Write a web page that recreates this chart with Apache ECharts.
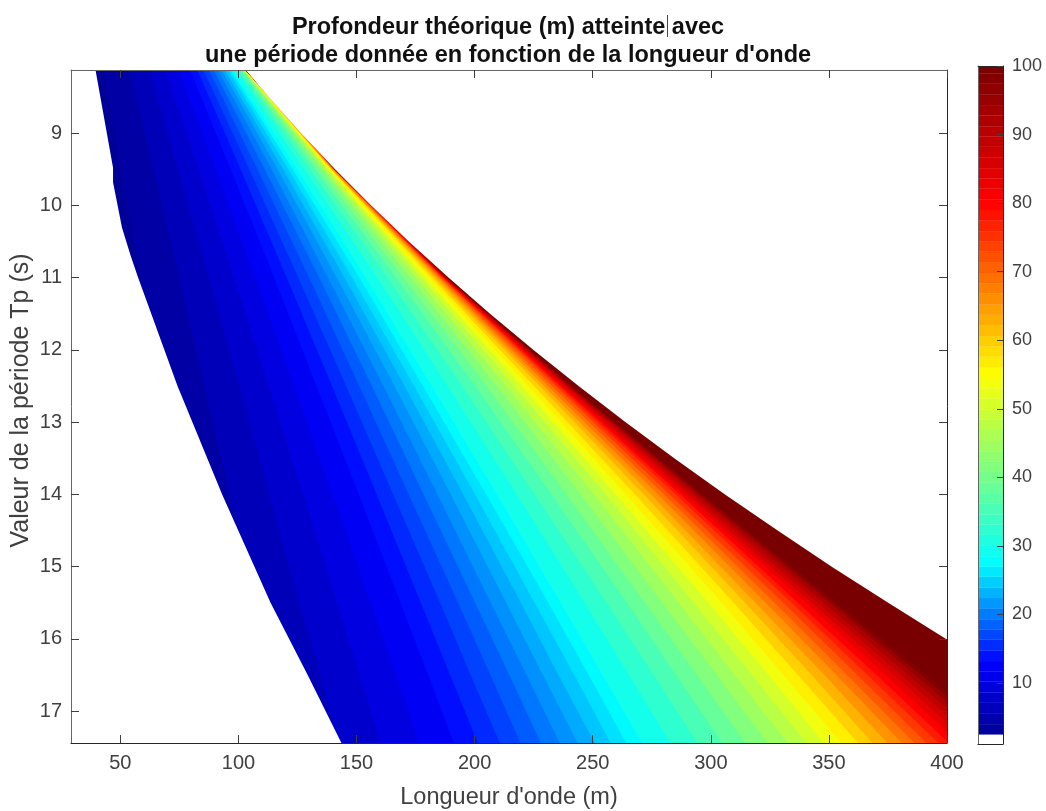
<!DOCTYPE html>
<html><head><meta charset="utf-8">
<script src="https://cdn.jsdelivr.net/npm/echarts@6/dist/echarts.min.js"></script>
<style>html,body{margin:0;padding:0;background:#fff}#c{width:1046px;height:811px}</style>
</head><body><div id="c"></div>
<script>
// Depth levels (m) of the plotted bands
const depthLevels = [3,5,7,9,11,13,14.5,16,17.5,19,20.5,22,23.5,25,26.5,28,31,34,37,40,43,46,49,52,55,58,61,64,67,70,73,76,79,82,85,88,91,94,97,100];
// Periods (s) at which each band's boundary is read
const periodRows = [8.13,9.5,11,12.5,14,15.5,16.5,17.44];
// Wavelength (m) of each band's boundary, one list per period
const lengthsT813 = [42.8,54.0,62.5,69.3,74.9,79.6,82.7,85.3,87.6,89.7,91.5,93.1,94.4,95.7,96.7,97.6,99.2,100.2,101.1,101.6,102.1,102.3,102.6,102.8,102.9,103.0,103.0,103.1,103.1,103.1,103.2,103.2,103.2,103.2,103.2,103.2,103.2,103.2,103.2,103.2];
const lengthsT95 = [50.3,64.1,74.6,83.2,90.5,96.8,101.0,104.7,108.1,111.2,114.1,116.7,119.0,121.2,123.1,125.0,128.0,130.5,132.5,134.2,135.7,136.7,137.7,138.3,138.9,139.3,139.6,139.8,140.1,140.3,140.5,140.6,140.7,140.7,140.8,140.8,140.9,140.9,140.9,140.9];
const lengthsT11 = [58.6,74.9,87.6,98.2,107.2,115.2,120.5,125.4,130.0,134.3,138.0,141.7,145.0,148.2,151.3,154.0,158.9,163.2,166.9,170.0,172.9,175.3,177.3,179.0,180.7,182.0,183.0,184.0,184.9,185.5,186.1,186.6,186.9,187.1,187.4,187.6,187.9,188.2,188.3,188.4];
const lengthsT125 = [66.6,85.6,100.5,112.9,123.7,133.1,139.7,145.7,151.3,156.6,161.5,166.2,170.5,174.5,178.2,181.9,188.7,194.9,200.3,205.1,209.5,213.3,216.9,220.0,222.8,225.2,227.7,229.4,231.1,232.8,234.4,235.5,236.5,237.5,238.5,239.1,239.7,240.3,240.9,241.2];
const lengthsT14 = [75.1,96.2,113.1,127.5,139.9,151.0,158.6,165.6,172.2,178.5,184.4,190.0,195.3,200.3,205.0,209.6,218.0,225.5,232.7,239.0,245.1,250.6,255.6,259.9,264.1,268.0,271.7,274.7,277.8,280.3,282.7,285.3,287.1,288.7,290.4,292.1,293.8,294.9,295.9,296.9];
const lengthsT155 = [83.3,106.6,125.7,141.9,156.1,168.7,177.3,185.5,193.1,200.3,206.9,213.5,219.7,225.5,231.3,236.5,246.7,256.0,264.6,272.2,279.6,286.6,292.9,299.1,304.7,309.8,314.6,319.0,323.3,327.1,330.8,334.3,337.0,340.4,342.9,345.4,347.9,350.3,352.0,353.6];
const lengthsT165 = [89.0,113.5,134.8,151.4,166.8,180.4,189.7,198.4,206.8,214.8,222.1,229.0,235.6,242.3,248.4,254.3,265.5,276.0,285.4,294.3,302.7,310.2,317.6,324.6,330.8,337.0,342.8,348.2,353.3,357.8,362.2,366.5,370.3,374.0,377.7,380.7,383.8,386.7,389.2,391.6];
const lengthsT1744 = [93.7,120.0,142.2,160.3,176.6,191.2,201.4,210.7,219.5,228.1,236.1,243.7,251.0,257.7,264.3,271.0,282.9,294.4,304.9,314.6,324.0,332.6,340.6,348.0,355.4,362.4,368.6,374.8,381.0,386.4,391.5,396.5,400.9,405.3,409.6,413.4,417.1,420.8,424.0,426.7];
// Outline of the coloured region
const leftEdgeT = [8.13,9.48,9.68,10.31,10.7,11,12.5,14,15.5,16.5,17.44];
const leftEdgeL = [39.5,46.9,46.9,50.7,54.4,57.5,74.2,93.1,113.6,129.3,143.6];
const rightEdgeT = [8.13,8.5,9,9.5,10,10.5,11,11.5,12,12.5,13,13.5,14,14.5,15,15.5,16,16.5,17];
const rightEdgeL = [103.2,112.8,126.4,140.9,156.1,172.1,188.9,206.5,224.8,244,263.8,284.5,306,328.3,351.2,375.1,399.6,425.1,451.2];
// Colour bar
const barEdges = [2.5,4.0,5.6,7.1,8.6,10.2,11.7,13.2,14.7,16.3,17.8,19.3,20.9,22.4,23.9,25.5,27.0,28.5,30.0,31.6,33.1,34.6,36.2,37.7,39.2,40.8,42.3,43.8,45.3,46.9,48.4,49.9,51.5,53.0,54.5,56.1,57.6,59.1,60.6,62.2,63.7,65.2,66.8,68.3,69.8,71.4,72.9,74.4,75.9,77.5,79.0,80.5,82.1,83.6,85.1,86.7,88.2,89.7,91.2,92.8,94.3,95.8,97.4,98.9,100];
const barTicks = [10,20,30,40,50,60,70,80,90,100];
const xTicks = [50,100,150,200,250,300,350,400];
const yTicks = [9,10,11,12,13,14,15,16,17];
// Colour stops: depth, r, g, b
const colorStops = [[2.5,0,0,150],[13,0,0,255],[27.5,0,255,255],[55,255,255,0],[80,255,0,0],[100,120,0,0]];

const rowsByLevel = [lengthsT813,lengthsT95,lengthsT11,lengthsT125,lengthsT14,lengthsT155,lengthsT165,lengthsT1744];
function colorAt(d){
  for(let i=1;i<colorStops.length;i++){
    const a=colorStops[i-1],b=colorStops[i];
    if(d<=b[0]){const t=Math.max(0,(d-a[0])/(b[0]-a[0]));
      return 'rgb('+[1,2,3].map(k=>Math.round(a[k]+(b[k]-a[k])*t)).join(',')+')';}
  }
  return 'rgb(120,0,0)';
}
const FONT='"Liberation Sans",Arial,sans-serif', TXT='#404040', DARK='#262626', GREY='#666666';
const chart=echarts.init(document.getElementById('c'),null,{renderer:'canvas'});

function bandItem(i,api){ // i = -1 is the base band
  const pts=[];
  periodRows.forEach((t,r)=>{
    const l=i<0?20:rowsByLevel[r][i];
    pts.push(api.coord([l,t]));
  });
  pts.push(api.coord([500,17.44]));pts.push(api.coord([500,8.13]));
  const lo=i<0?2.5:depthLevels[i], hi=i<0?3:(i+1<depthLevels.length?depthLevels[i+1]:102);
  const color=colorAt((lo+hi)/2);
  return {type:'polygon',shape:{points:pts},style:{fill:color,stroke:color,lineWidth:0.5}};
}
function ax(color){return {z:5,axisLine:{show:true,onZero:false,lineStyle:{color:color,width:1}},splitLine:{show:false}};}
const tick=(vals,len)=>({show:true,inside:true,length:len,customValues:vals,lineStyle:{color:'#404040'}});
const option={
  animation:false,
  backgroundColor:'#fff',
  title:{text:"Profondeur théorique (m) atteinte avec\nune période donnée en fonction de la longueur d'onde",
    left:508,top:14,padding:0,textAlign:'center',
    textStyle:{fontFamily:FONT,fontWeight:'bold',fontSize:23.5,lineHeight:28,color:'#111'}},
  grid:[{left:71,top:70,width:876,height:673,outerBoundsMode:'none'},{left:978,top:66,width:25,height:678,outerBoundsMode:'none'}],
  xAxis:[
    Object.assign(ax(DARK),{gridIndex:0,type:'value',position:'bottom',min:29.1,max:400,
      name:"Longueur d'onde (m)",nameLocation:'middle',nameGap:43,nameMoveOverlap:false,
      nameTextStyle:{fontFamily:FONT,fontSize:23.5,color:TXT},
      axisTick:tick(xTicks,8),
      axisLabel:{show:true,customValues:xTicks,fontFamily:FONT,fontSize:20,color:TXT,margin:10}}),
    Object.assign(ax(GREY),{gridIndex:0,type:'value',position:'top',min:29.1,max:400,
      axisTick:tick(xTicks,8),axisLabel:{show:false}}),
    Object.assign(ax(DARK),{gridIndex:1,type:'value',position:'bottom',min:0,max:1,axisTick:{show:false},axisLabel:{show:false}}),
    Object.assign(ax(DARK),{gridIndex:1,type:'value',position:'top',min:0,max:1,axisTick:{show:false},axisLabel:{show:false}})
  ],
  yAxis:[
    Object.assign(ax(GREY),{gridIndex:0,type:'value',position:'left',inverse:true,min:8.128,max:17.44,
      name:'Valeur de la période Tp (s)',nameLocation:'middle',nameGap:37,nameRotate:90,nameMoveOverlap:false,
      nameTextStyle:{fontFamily:FONT,fontSize:25,color:TXT,padding:[0,0,0,12]},
      axisTick:tick(yTicks,8),
      axisLabel:{show:true,customValues:yTicks,fontFamily:FONT,fontSize:20,color:TXT,margin:9}}),
    Object.assign(ax(DARK),{gridIndex:0,type:'value',position:'right',inverse:true,min:8.128,max:17.44,
      axisTick:tick(yTicks,8),axisLabel:{show:false}}),
    Object.assign(ax(DARK),{gridIndex:1,type:'value',position:'right',min:1.1,max:100,
      axisTick:tick(barTicks,6),
      axisLabel:{show:true,customValues:barTicks,fontFamily:FONT,fontSize:18,color:TXT,margin:9}}),
    Object.assign(ax(GREY),{gridIndex:1,type:'value',position:'left',min:1.1,max:100,axisTick:{show:false},axisLabel:{show:false}})
  ],
  series:[
    {type:'custom',name:'bands',xAxisIndex:0,yAxisIndex:0,clip:true,silent:true,z:2,
      data:[-1].concat(depthLevels.map((d,i)=>i)).map(i=>[i]),
      renderItem:(p,api)=>bandItem(api.value(0),api)},
    {type:'custom',name:'blank',xAxisIndex:0,yAxisIndex:0,clip:true,silent:true,z:3,
      data:[[0],[1]],
      renderItem:(p,api)=>{
        const pts=[];
        if(api.value(0)===0){
          leftEdgeT.forEach((t,k)=>pts.push(api.coord([leftEdgeL[k],t])));
          pts.push(api.coord([0,17.44]));pts.push(api.coord([0,8.13]));
        }else{
          rightEdgeT.forEach((t,k)=>pts.push(api.coord([rightEdgeL[k],t])));
          pts.push(api.coord([520,17]));pts.push(api.coord([520,8.13]));
        }
        return {type:'polygon',shape:{points:pts},style:{fill:'#fff'}};
      }},
    {type:'custom',name:'colorbar',xAxisIndex:2,yAxisIndex:2,clip:true,silent:true,z:2,
      data:barEdges.slice(0,-1).map((d,i)=>[d,barEdges[i+1]]),
      renderItem:(p,api)=>{
        const a=api.coord([0,api.value(1)]),b=api.coord([1,api.value(0)]);
        const color=colorAt((api.value(0)+api.value(1))/2);
        return {type:'rect',shape:{x:a[0],y:a[1],width:b[0]-a[0],height:b[1]-a[1]},style:{fill:color,stroke:color,lineWidth:0.3}};
      }}
  ],
  graphic:[{type:'line',shape:{x1:667.5,y1:15,x2:667.5,y2:37},style:{stroke:'#444',lineWidth:1}}]
};
chart.setOption(option);
</script></body></html>
